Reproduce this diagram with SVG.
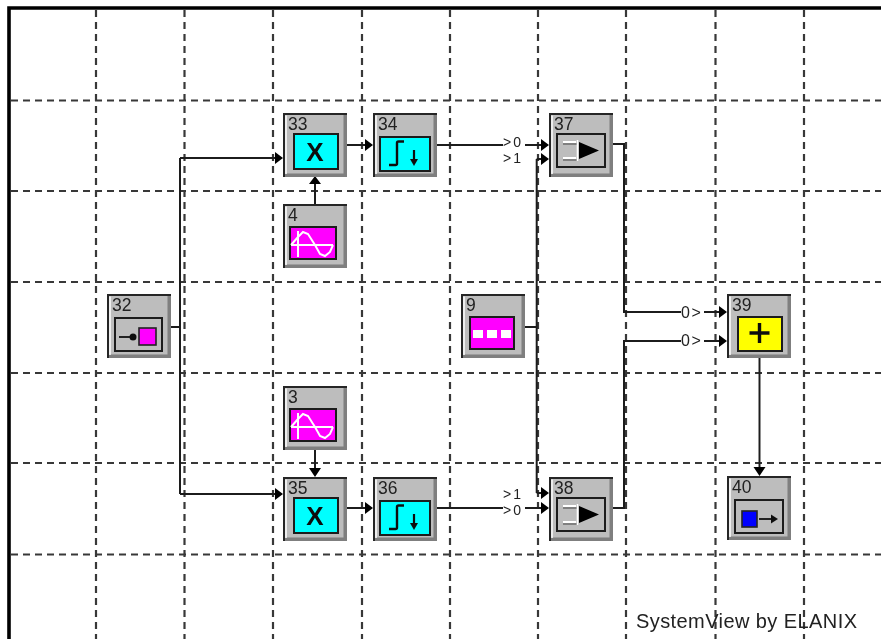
<svg xmlns="http://www.w3.org/2000/svg" width="881" height="639" viewBox="0 0 881 639">
<style>
.grid{stroke:#383838;stroke-width:2.200;stroke-dasharray:7 5;fill:none}
.wire{stroke:#1e1e1e;stroke-width:2;fill:none}
.head{fill:#000}
text{font-family:"Liberation Sans",Arial,sans-serif;fill:#222}
.id{font-size:17.500px}
.port{font-size:14px;letter-spacing:2px}
.port2{font-size:16px;letter-spacing:1.500px}
.op{font-size:26px;font-weight:bold;fill:#0a0a0a;text-anchor:middle}
.panel{stroke:#1e1e1e;stroke-width:2}
.w{stroke:#fff;stroke-width:2;fill:none}
</style>
<defs>
<filter id="soft" filterUnits="userSpaceOnUse" x="0" y="0" width="881" height="639"><feGaussianBlur stdDeviation="0.350"/></filter>
<g id="frame">
<rect x="0" y="0" width="64" height="64" fill="#bdbdbd"/>
<path d="M60.500 1H64V64H1V60.500H60.500Z" fill="#7f7f7f"/>
<path d="M3 61L3 2.500" stroke="#fff" stroke-width="1.500" fill="none"/>
<path d="M1 64V1H64" fill="none" stroke="#282828" stroke-width="2"/>
</g>
<g id="sine">
<rect x="7" y="23" width="46" height="32" fill="#ff00ff" class="panel"/>
<path d="M8 41H50M15 27V53M8 41L15 33L20 28L25 30L32 41L37 50L42 52L47 48L50 41" class="w"/>
</g>
<g id="amp">
<rect x="8" y="21" width="48" height="33" fill="#bdbdbd" class="panel"/>
<path d="M14 29H27M14 45H27" class="w"/>
<path d="M14 31H28M14 47H28" stroke="#444" stroke-width="1.200" fill="none"/>
<path d="M28.500 27V48" stroke="#fff" stroke-width="1.600"/>
<path d="M30 29L50 37.500L30 46Z" fill="#000"/>
</g>
<g id="integ">
<rect x="7" y="24" width="50" height="34" fill="#00ffff" class="panel"/>
<path d="M31 28.500H25.500Q24 28.500 24 30V50.500Q24 52 22.500 52H16" stroke="#111" stroke-width="2.400" fill="none"/>
<path d="M41 37V48" stroke="#111" stroke-width="2.200"/>
<path d="M37 46H45L41 53Z" fill="#111"/>
</g>
</defs>
<rect width="881" height="639" fill="#fff"/>
<g filter="url(#soft)">
<g id="grid">
<path class="grid" d="M96 10V639M184.500 10V639M273 10V639M362 10V639M450 10V639M538 10V639M626 10V639M715.500 10V639M804 10V639"/>
<path class="grid" d="M11 100.500H881M11 191H881M11 282H881M11 373H881M11 463H881M11 554.500H881"/>
</g>
<path id="border" d="M9 639V8H881" fill="none" stroke="#000" stroke-width="3.600"/>
<g id="connectors">
<path class="wire" d="M171 327H180M180 158V494M180 158H276M180 494H276"/>
<path class="head" d="M283 158L275 152V164ZM283 494L275 488V500Z"/>
<path class="wire" d="M346 145H366M346 508H366M436 145H503M524 145H542M436 508H503M524 508H542"/>
<path class="head" d="M373 145L365 139V151ZM373 508L365 502V514ZM549 145L541 139V151ZM549 508L541 502V514Z"/>
<path class="wire" d="M315 204V184M315 449V469"/>
<path class="head" d="M315 176L309 184H321ZM315 477L309 468H321Z"/>
<path class="wire" d="M525 327H536.700M536.700 159V493M536.700 159H542M536.700 493H542"/>
<path class="head" d="M549 159L541 153V165ZM549 493L541 487V499Z"/>
<path class="wire" d="M612 144H624V312H681M704 312H720M612 508H624V341H681M704 341H720"/>
<path class="head" d="M727 312L719 306V318ZM727 341L719 335V347Z"/>
<path class="wire" d="M759.500 358V469"/>
<path class="head" d="M759.500 476L753.500 467H765.500Z"/>
<rect x="503" y="136" width="22" height="12" fill="#fff"/>
<rect x="503" y="503" width="22" height="11" fill="#fff"/>
<text class="port" x="503" y="147">&gt;0</text>
<text class="port" x="503" y="163">&gt;1</text>
<text class="port" x="503" y="498.500">&gt;1</text>
<text class="port" x="503" y="514.500">&gt;0</text>
<rect x="681" y="305" width="22" height="14" fill="#fff"/>
<rect x="681" y="334" width="22" height="14" fill="#fff"/>
<text class="port2" x="681" y="318">0&gt;</text>
<text class="port2" x="681" y="346">0&gt;</text>
</g>
<g id="node32" transform="translate(107,294)">
<use href="#frame"/><text class="id" x="5" y="17">32</text>
<rect x="8" y="24" width="47" height="33" fill="#bdbdbd" class="panel"/>
<path d="M12 43H24" stroke="#222" stroke-width="2"/><circle cx="26" cy="43" r="3.500" fill="#111"/>
<rect x="32" y="34" width="17" height="17" fill="#ff00ff" stroke="#222" stroke-width="1.600"/>
</g>
<g id="node33" transform="translate(283,113)">
<use href="#frame"/><text class="id" x="5" y="17">33</text>
<rect x="11" y="21" width="44" height="35" fill="#00ffff" class="panel"/>
<text class="op" x="32" y="48">X</text>
</g>
<g id="node34" transform="translate(373,113)">
<use href="#frame"/><text class="id" x="5" y="17">34</text><use href="#integ"/>
</g>
<g id="node4" transform="translate(283,204)">
<use href="#frame"/><text class="id" x="5" y="17">4</text><use href="#sine"/>
</g>
<g id="node37" transform="translate(549,113)">
<use href="#frame"/><text class="id" x="5" y="17">37</text><use href="#amp"/>
</g>
<g id="node9" transform="translate(461,294)">
<use href="#frame"/><text class="id" x="5" y="17">9</text>
<rect x="9" y="23" width="44" height="32" fill="#ff00ff" class="panel"/>
<path d="M12 36H22V44H12ZM26 36H36V44H26ZM40 36H50V44H40Z" fill="#fff"/>
</g>
<g id="node39" transform="translate(727,294)">
<use href="#frame"/><text class="id" x="5" y="17">39</text>
<rect x="11" y="23" width="44" height="34" fill="#ffff00" class="panel"/>
<path d="M32.500 29V49M22.500 39H42.500" stroke="#111" stroke-width="3.400" fill="none"/>
</g>
<g id="node3" transform="translate(283,386)">
<use href="#frame"/><text class="id" x="5" y="17">3</text><use href="#sine"/>
</g>
<g id="node35" transform="translate(283,477)">
<use href="#frame"/><text class="id" x="5" y="17">35</text>
<rect x="11" y="21" width="44" height="35" fill="#00ffff" class="panel"/>
<text class="op" x="32" y="48">X</text>
</g>
<g id="node36" transform="translate(373,477)">
<use href="#frame"/><text class="id" x="5" y="17">36</text><use href="#integ"/>
</g>
<g id="node38" transform="translate(549,477)">
<use href="#frame"/><text class="id" x="5" y="17">38</text><use href="#amp"/>
</g>
<g id="node40" transform="translate(727,476)">
<use href="#frame"/><text class="id" x="5" y="17">40</text>
<rect x="8" y="24" width="48" height="33" fill="#bdbdbd" class="panel"/>
<rect x="15" y="35" width="15" height="16" fill="#0000ff" stroke="#222" stroke-width="1.600"/>
<path d="M32 43H46" stroke="#222" stroke-width="2"/><path d="M51 43L44 38.500V47.500Z" fill="#111"/>
</g>
<text id="credit" x="636" y="627.500" font-size="20" textLength="221" lengthAdjust="spacing">SystemView by ELANIX</text>
</g>
</svg>
